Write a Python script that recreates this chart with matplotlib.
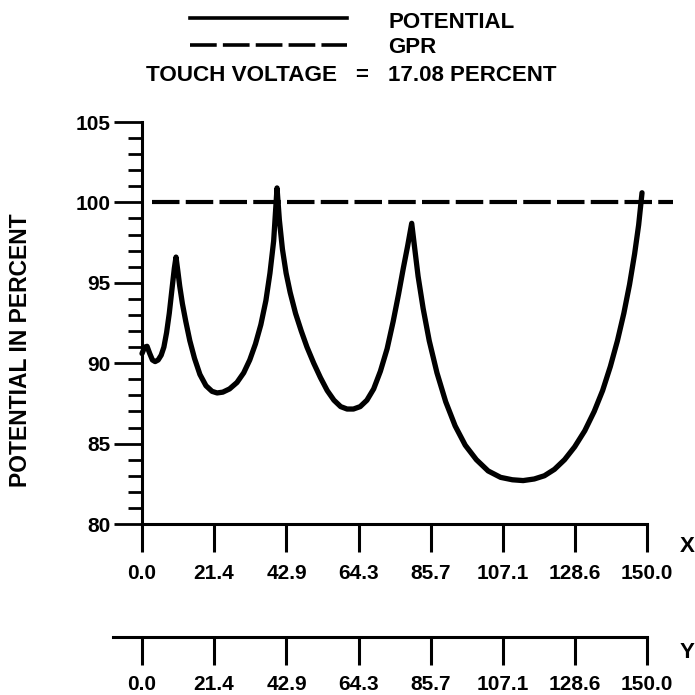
import matplotlib
matplotlib.use('Agg')
import matplotlib.pyplot as plt
from matplotlib.lines import Line2D
from matplotlib.ticker import MultipleLocator

plt.rcParams['font.family'] = ['Liberation Sans', 'DejaVu Sans']
plt.rcParams['font.weight'] = 'bold'

# distance along the profile (m) and potential (% of GPR)
dist = [0.0, 0.8, 1.5, 2.3, 3.1, 3.9, 4.8, 5.7, 6.5, 7.3, 8.1, 8.9, 9.6, 10.1,
        10.6, 11.2, 12.0, 13.0, 14.2, 15.6, 17.2, 19.0, 20.8, 22.3, 24.0, 26.0,
        28.2, 30.2, 32.0, 33.7, 35.3, 36.8, 38.0, 39.1, 40.1, 40.8, 41.7, 42.8,
        44.0, 45.6, 47.3, 49.0, 51.0, 53.0, 55.0, 57.0, 59.0, 60.9, 62.8, 64.8,
        66.8, 68.8, 70.8, 72.8, 74.6, 76.2, 77.6, 78.9, 80.1, 80.9, 82.0, 83.5,
        85.3, 87.6, 90.2, 93.0, 96.0, 99.3, 102.8, 106.5, 110.0, 113.2, 116.5,
        119.5, 122.5, 125.5, 128.5, 131.5, 134.3, 136.8, 139.1, 141.2, 143.1,
        144.8, 146.3, 147.5, 148.5]
potential = [90.6, 91.0, 91.05, 90.6, 90.2, 90.1, 90.2, 90.5, 91.0, 91.9, 93.1,
             94.6, 95.9, 96.6, 95.8, 94.8, 93.7, 92.6, 91.4, 90.3, 89.3, 88.6,
             88.25, 88.15, 88.2, 88.4, 88.8, 89.4, 90.2, 91.2, 92.4, 93.9, 95.6,
             97.6, 100.9, 98.9, 97.1, 95.6, 94.4, 93.1, 92.0, 91.0, 90.0, 89.1,
             88.3, 87.7, 87.3, 87.15, 87.15, 87.3, 87.7, 88.4, 89.5, 90.9, 92.6,
             94.3, 95.9, 97.3, 98.7, 97.3, 95.4, 93.4, 91.4, 89.4, 87.6, 86.1,
             84.9, 84.0, 83.3, 82.9, 82.75, 82.7, 82.8, 83.0, 83.4, 84.0, 84.8,
             85.8, 87.0, 88.3, 89.8, 91.4, 93.1, 94.9, 96.8, 98.6, 100.6]

gpr_x = [3.0, 157.7]
gpr_y = [100.0, 100.0]

x_ticks = [0.0, 21.4, 42.9, 64.3, 85.7, 107.1, 128.6, 150.0]
x_labels = ['0.0', '21.4', '42.9', '64.3', '85.7', '107.1', '128.6', '150.0']
y_ticks = [80, 85, 90, 95, 100, 105]

W = 695.0


def fx(px):
    return px / W


def fy(py):
    return 1 - py / W


fig = plt.figure(figsize=(6.95, 6.95), dpi=100)

ax = fig.add_axes([fx(142), fy(524), (673 - 142) / W, (524 - 122) / W])
ax.plot(dist, potential, color='black', linewidth=3.8, solid_joinstyle='round',
        solid_capstyle='round', clip_on=False)
ax.plot(gpr_x, gpr_y, color='black', linewidth=3.0, dashes=(6.6, 1.5),
        dash_capstyle='butt', clip_on=False)

ax.set_xlim(0, 157.7)
ax.set_ylim(80, 105)
for side in ['top', 'right']:
    ax.spines[side].set_visible(False)
ax.spines['left'].set_linewidth(2.2)
ax.spines['bottom'].set_linewidth(2.2)
ax.spines['bottom'].set_bounds(0, 150)

ax.set_xticks(x_ticks)
ax.set_xticklabels(x_labels)
ax.set_yticks(y_ticks)
ax.yaxis.set_minor_locator(MultipleLocator(1))
ax.tick_params(axis='y', which='major', direction='out', length=20.5, width=2.0,
               labelsize=15, pad=2)
ax.tick_params(axis='y', which='minor', direction='out', length=10, width=2.0)
ax.tick_params(axis='x', which='major', direction='out', length=20, width=2.2,
               labelsize=15, pad=9)
ax.set_ylabel('POTENTIAL IN PERCENT', fontsize=16.5, fontweight='bold', labelpad=0)
ax.yaxis.set_label_coords(-(142 - 32) / 531.0, (524 - 350) / 402.0)

# second horizontal scale (Y direction)
ax2 = fig.add_axes([fx(142), fy(637), (673 - 142) / W, 0.001])
ax2.set_xlim(0, 157.7)
for side in ['top', 'right', 'left']:
    ax2.spines[side].set_visible(False)
ax2.spines['bottom'].set_linewidth(2.2)
ax2.spines['bottom'].set_bounds(-8.6, 150)
ax2.set_yticks([])
ax2.set_xticks(x_ticks)
ax2.set_xticklabels(x_labels)
ax2.tick_params(axis='x', which='major', direction='out', length=20, width=2.2,
                labelsize=15, pad=7)
ax2.patch.set_visible(False)

fig.text(fx(680), fy(547), 'X', fontsize=16, fontweight='bold', va='center', ha='left')
fig.text(fx(680), fy(652), 'Y', fontsize=16, fontweight='bold', va='center', ha='left')

# legend block at the top
fig.add_artist(Line2D([fx(190), fx(347)], [fy(18), fy(18)], color='black',
                      linewidth=2.6, transform=fig.transFigure))
fig.add_artist(Line2D([fx(190), fx(347)], [fy(45), fy(45)], color='black',
                      linewidth=2.6, dashes=(7.4, 1.7), dash_capstyle='butt',
                      transform=fig.transFigure))
fig.text(fx(388), fy(28), 'POTENTIAL', fontsize=16, fontweight='bold', va='baseline', ha='left')
fig.text(fx(388), fy(53), 'GPR', fontsize=16, fontweight='bold', va='baseline', ha='left')
fig.text(fx(146), fy(81), 'TOUCH VOLTAGE', fontsize=16.2, fontweight='bold', va='baseline', ha='left')
fig.text(fx(362), fy(81), '=', fontsize=16, fontweight='bold', va='baseline', ha='center')
fig.text(fx(388), fy(81), '17.08 PERCENT', fontsize=16, fontweight='bold', va='baseline', ha='left')

fig.savefig('out.png', dpi=100, facecolor='white')
